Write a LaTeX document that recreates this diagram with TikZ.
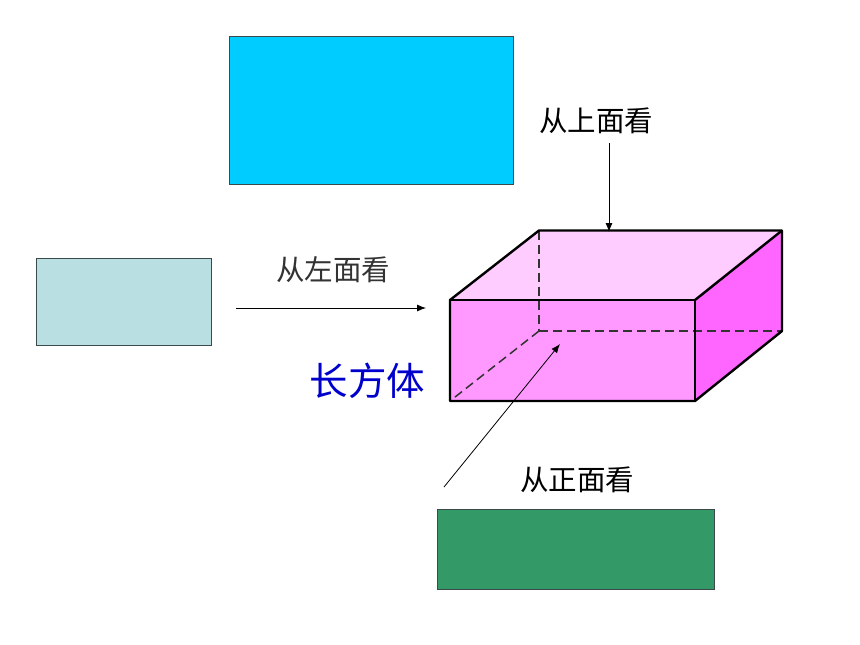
\documentclass[tikz,border=0pt]{standalone}
\usepackage{fontspec}
\newfontfamily\cjk{Noto Sans CJK SC}
\usetikzlibrary{arrows.meta}
\definecolor{topview}{HTML}{00CCFF}
\definecolor{leftview}{HTML}{B9DFE3}
\definecolor{frontview}{HTML}{339966}
\definecolor{boxtop}{HTML}{FFCCFF}
\definecolor{boxfront}{HTML}{FF99FF}
\definecolor{boxside}{HTML}{FF66FF}
\definecolor{titleblue}{HTML}{0000CC}
\definecolor{viewedge}{HTML}{3A4A4A}
\tikzset{
  viewbox/.style={draw=viewedge,line width=0.9pt,inner sep=0pt,minimum width=#1},
  boxedge/.style={line width=2.4pt,line join=round},
  hiddenedge/.style={line width=1.5pt,draw=black!80,dash pattern=on 9pt off 5pt},
  sightline/.style={line width=0.8pt,-{Latex[length=9pt,width=7pt]}},
  viewlabel/.style={font=\cjk\fontsize{28.5}{30}\selectfont,inner sep=0pt},
}
\begin{document}
\begin{tikzpicture}[x=1pt,y=-1pt]
\useasboundingbox (0,0) rectangle (860,645);
\fill[white] (0,0) rectangle (860,645);
% orthographic views
\node[viewbox=284.5pt,fill=topview,minimum height=148.5pt] (topbox) at (371.4,110.4) {};
\node[viewbox=175.5pt,fill=leftview,minimum height=87.5pt] (leftbox) at (123.9,301.9) {};
\node[viewbox=277.5pt,fill=frontview,minimum height=80.5pt] (frontbox) at (575.9,549.4) {};
% cuboid corners
\coordinate (fbl) at (450,401);
\coordinate (fbr) at (695,401);
\coordinate (ftl) at (450,300);
\coordinate (ftr) at (695,300);
\coordinate (bbl) at (539,331);
\coordinate (bbr) at (782,331);
\coordinate (btl) at (539,230.5);
\coordinate (btr) at (782,230.5);
% faces
\fill[boxtop] (ftl) -- (btl) -- (btr) -- (ftr) -- cycle;
\fill[boxfront] (ftl) -- (ftr) -- (fbr) -- (fbl) -- cycle;
\fill[boxside] (ftr) -- (btr) -- (bbr) -- (fbr) -- cycle;
% hidden edges
\draw[hiddenedge] (btl) -- (bbl);
\draw[hiddenedge] (bbl) -- (bbr);
\draw[hiddenedge] (bbl) -- (fbl);
% visible edges
\draw[boxedge] (ftl) -- (btl) -- (btr) -- (bbr) -- (fbr) -- (fbl) -- cycle;
\draw[boxedge] (ftl) -- (ftr) -- (fbr);
\draw[boxedge] (ftr) -- (btr);
% labels
\node[viewlabel] (uplabel) at (596,121) {从上面看};
\node[viewlabel,text=black!80] (leftlabel) at (333,270) {从左面看};
\node[viewlabel] (frontlabel) at (577,480) {从正面看};
\node[font=\cjk\fontsize{38.5}{40}\selectfont,text=titleblue,inner sep=0pt] (title) at (367.5,381) {长方体};
% sight lines
\coordinate (upstart) at (609,143);
\coordinate (upend) at (609,232);
\coordinate (leftstart) at (236,308);
\coordinate (leftend) at (426,308);
\coordinate (frontstart) at (444,487);
\coordinate (frontend) at (560,344);
\draw[sightline] (upstart) -- (upend);
\draw[sightline] (leftstart) -- (leftend);
\draw[sightline] (frontstart) -- (frontend);
\end{tikzpicture}
\end{document}
